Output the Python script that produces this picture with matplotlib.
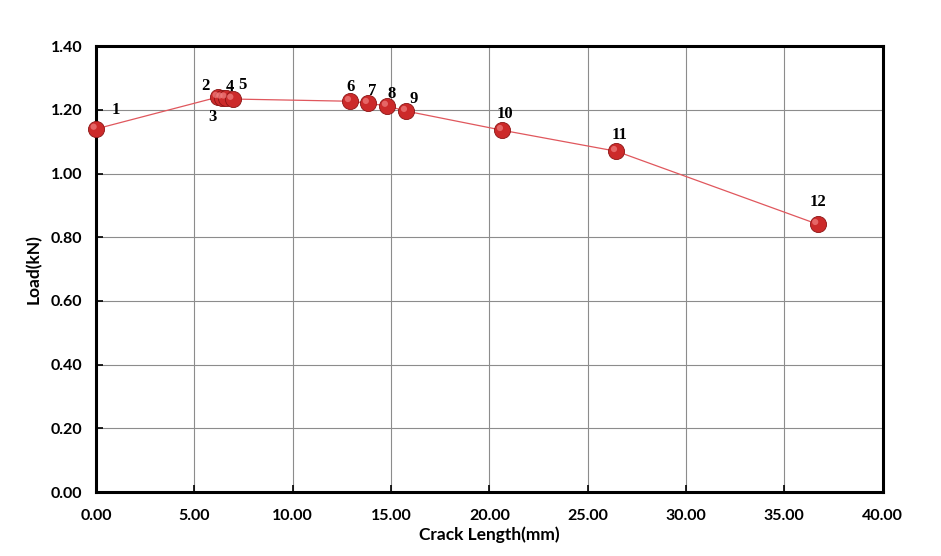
import matplotlib
matplotlib.use("Agg")
import matplotlib.pyplot as plt
import numpy as np

# crack length (mm) and load (kN) per measurement point
crack = [0.0, 6.2, 6.4, 6.6, 6.95, 12.93, 13.84, 14.81, 15.78, 20.66, 26.46, 36.69]
load = [1.14, 1.240, 1.238, 1.238, 1.234, 1.227, 1.221, 1.212, 1.196, 1.136, 1.070, 0.841]
point_labels = [str(i) for i in range(1, 13)]
# label offsets in points (dx, dy)
label_offsets = [(14, 14), (-9, 8), (-7, -14), (3, 8), (7, 10), (0, 10), (3, 9),
                 (3, 9), (5, 9), (2, 12), (2, 12), (0, 16)]

x_ticks = np.arange(0, 40.01, 5)
y_ticks = np.arange(0, 1.401, 0.2)

fig = plt.figure(figsize=(9.41, 5.56), dpi=100)
ax = fig.add_axes([0.102, 0.115, 0.836, 0.802])

ax.plot(crack, load, color="#e0575d", linewidth=0.9, zorder=3, clip_on=False)
ax.scatter(crack, load, s=135, color="#cc2a2a", edgecolor="#8b1515",
           linewidth=0.6, zorder=4, clip_on=False)
# small highlight for the shiny ball look
ax.scatter(np.array(crack) - 0.12, np.array(load) + 0.007, s=20,
           color="#f08080", edgecolor="none", alpha=0.7, zorder=5, clip_on=False)

for x, y, lab, (dx, dy) in zip(crack, load, point_labels, label_offsets):
    ax.annotate(lab, (x, y), xytext=(dx, dy), textcoords="offset points",
                ha="center", va="center", fontsize=12, fontweight="bold",
                family="Liberation Serif", zorder=6)

ax.set_xlim(0, 40)
ax.set_ylim(0, 1.4)
ax.set_xticks(x_ticks)
ax.set_yticks(y_ticks)
ax.set_xticklabels([f"{v:.2f}" for v in x_ticks])
ax.set_yticklabels([f"{v:.2f}" for v in y_ticks])
ax.grid(True, color="#8c8c8c", linewidth=0.8)
ax.set_axisbelow(True)
for s in ax.spines.values():
    s.set_linewidth(2.2)
    s.set_color("black")
ax.tick_params(direction="in", length=5, width=1.2, labelsize=11.5)
ax.tick_params(axis="x", pad=12)
ax.tick_params(axis="y", pad=10)
for t in ax.get_xticklabels() + ax.get_yticklabels():
    t.set_fontweight("bold")
    t.set_family("Lato")

ax.set_xlabel("Crack Length(mm)", fontsize=12.5, fontweight="bold", family="Lato", labelpad=3)
ax.set_ylabel("Load(kN)", fontsize=12.5, fontweight="bold", family="Lato", labelpad=6)

plt.savefig("out.png", dpi=100)
plt.close()
